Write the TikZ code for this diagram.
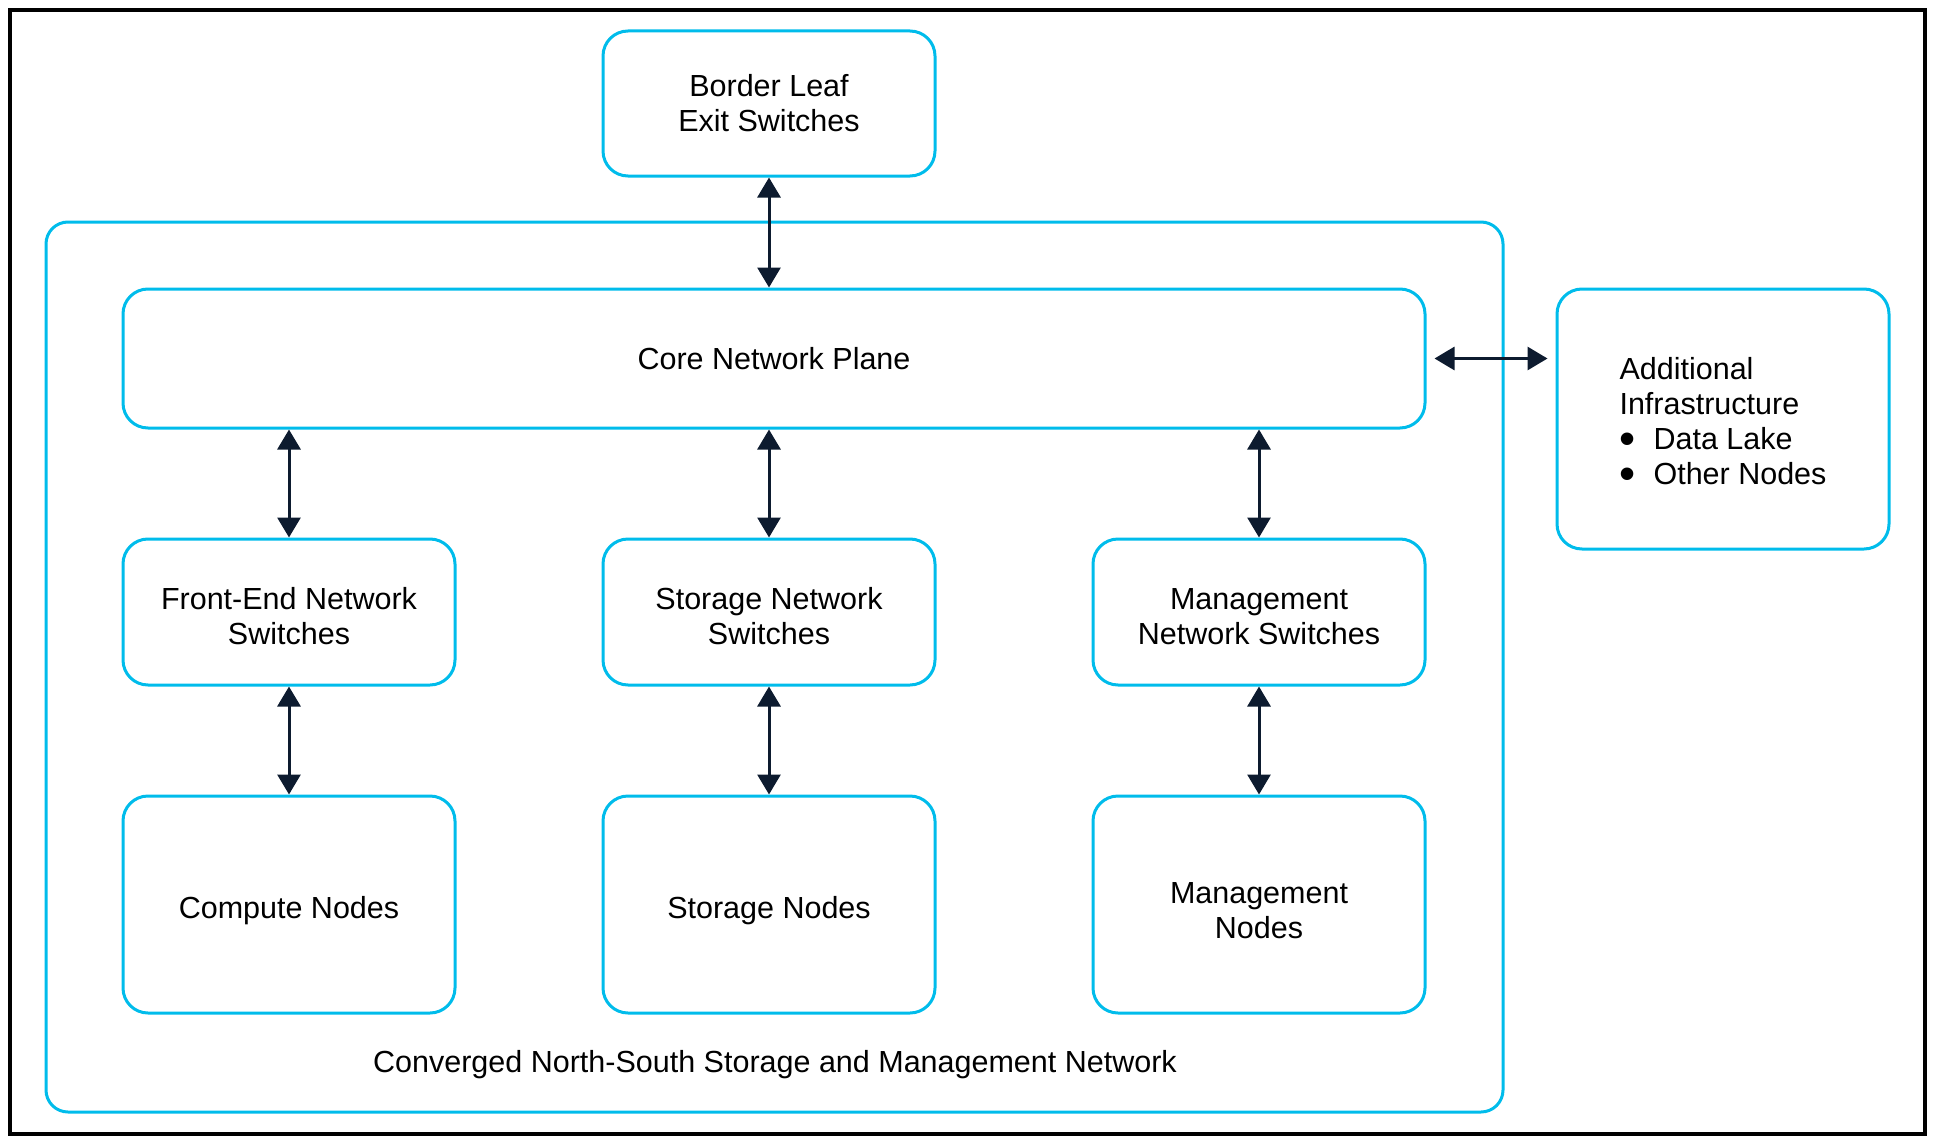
\documentclass[tikz,border=0pt]{standalone}
\usepackage{fontspec}
\setmainfont{Liberation Sans}
\usetikzlibrary{arrows.meta}
\definecolor{ciscoblue}{HTML}{00BCEB}
\definecolor{navy}{HTML}{0D1B2F}
\newcommand{\bala}{\makebox[34pt][l]{\fontsize{46pt}{35pt}\selectfont\raisebox{-5pt}[0pt][0pt]{\textbullet}}}
\tikzset{
  caja/.style={draw=ciscoblue, line width=3pt, rounded corners=25pt, align=center,
    minimum width=332pt, font=\fontsize{30.5pt}{35pt}\selectfont, inner sep=0pt},
  flecha/.style={draw=navy, line width=3pt,
    {Triangle[length=20pt,width=23pt]}-{Triangle[length=20pt,width=23pt]}}
}
\begin{document}
\begin{tikzpicture}[x=1pt, y=-1pt]
  \useasboundingbox (0,0) rectangle (1935,1145);

  % Marco
  \draw [line width=4pt] (10,10) rectangle (1925,1134);

  % Red convergente
  \node [caja, rounded corners=22pt, minimum width=1457pt, minimum height=890pt] (red) at (774.5,667) {};
  \node [font=\fontsize{30.5pt}{35pt}\selectfont] (redlabel) at (775,1065) {Converged North-South Storage and Management Network};

  % Cajas
  \node [caja, minimum height=145pt] (border) at (769,103.5) {Border Leaf\\Exit Switches};
  \node [caja, minimum width=1302pt, minimum height=139pt] (core) at (774,358.5) {Core Network Plane};
  \node [caja, minimum height=260pt, align=left, text height=132pt] (addl) at (1723,419)
    {Additional\\Infrastructure\\\bala Data Lake\\\bala Other Nodes};

  \node [caja, minimum height=146pt, text height=66pt] (fesw) at (289,612) {Front-End Network\\Switches};
  \node [caja, minimum height=146pt, text height=66pt] (stsw) at (769,612) {Storage Network\\Switches};
  \node [caja, minimum height=146pt, text height=66pt] (mgsw) at (1259,612) {Management\\Network Switches};

  \node [caja, minimum height=217pt, text height=34pt] (compute) at (289,904.5) {Compute Nodes};
  \node [caja, minimum height=217pt, text height=34pt] (storage) at (769,904.5) {Storage Nodes};
  \node [caja, minimum height=217pt, text height=69pt] (mgmt) at (1259,904.5) {Management\\Nodes};

  % Flechas
  \draw [flecha] (border.south) -- (border.south |- core.north);
  \draw [flecha, shorten <=8pt, shorten >=8pt] (core.east) -- (addl.west |- core.east);
  \draw [flecha] (fesw.north |- core.south) -- (fesw.north);
  \draw [flecha] (stsw.north |- core.south) -- (stsw.north);
  \draw [flecha] (mgsw.north |- core.south) -- (mgsw.north);
  \draw [flecha] (fesw.south) -- (compute.north);
  \draw [flecha] (stsw.south) -- (storage.north);
  \draw [flecha] (mgsw.south) -- (mgmt.north);
\end{tikzpicture}
\end{document}
